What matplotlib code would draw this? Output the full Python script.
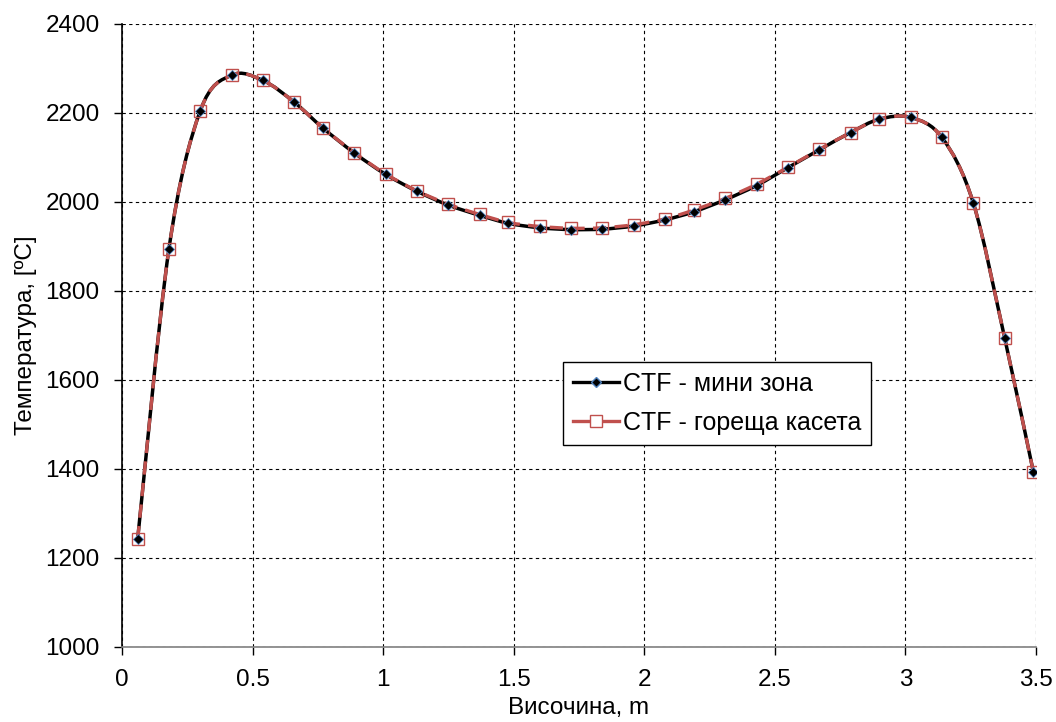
import numpy as np
import matplotlib
matplotlib.use('Agg')
import matplotlib.pyplot as plt
from matplotlib.path import Path
from matplotlib.patches import PathPatch
from matplotlib.lines import Line2D

plt.rcParams['font.family'] = ['Liberation Sans', 'DejaVu Sans']

# Data
height = [0.06, 0.18, 0.30, 0.42, 0.54, 0.66, 0.77, 0.89, 1.01, 1.13,
          1.25, 1.37, 1.48, 1.60, 1.72, 1.84, 1.96, 2.08, 2.19, 2.31,
          2.43, 2.55, 2.67, 2.79, 2.90, 3.02, 3.14, 3.26, 3.38, 3.49]
temp_mini = [1242, 1895, 2205, 2285, 2273, 2224, 2166, 2110, 2062, 2024,
             1993, 1970, 1952, 1942, 1938, 1939, 1946, 1960, 1978, 2005,
             2037, 2077, 2117, 2156, 2186, 2190, 2145, 1998, 1695, 1394]
temp_hot = [1242, 1895, 2205, 2285, 2273, 2224, 2166, 2111, 2063, 2025,
            1995, 1972, 1954, 1945, 1941, 1942, 1949, 1962, 1982, 2008,
            2040, 2078, 2118, 2156, 2186, 2190, 2145, 1998, 1695, 1394]

label_mini = 'CTF - мини зона'
label_hot = 'CTF - гореща касета'


def smooth_path(x, y):
    # Excel-style smoothed line: cubic Bezier segments with Catmull-Rom tangents
    x = np.asarray(x, float)
    y = np.asarray(y, float)
    n = len(x)
    verts = [(x[0], y[0])]
    codes = [Path.MOVETO]
    for i in range(n - 1):
        p0 = (x[max(i - 1, 0)], y[max(i - 1, 0)])
        p1 = (x[i], y[i])
        p2 = (x[i + 1], y[i + 1])
        p3 = (x[min(i + 2, n - 1)], y[min(i + 2, n - 1)])
        c1 = (p1[0] + (p2[0] - p0[0]) / 6, p1[1] + (p2[1] - p0[1]) / 6)
        c2 = (p2[0] - (p3[0] - p1[0]) / 6, p2[1] - (p3[1] - p1[1]) / 6)
        verts += [c1, c2, p2]
        codes += [Path.CURVE4] * 3
    return Path(verts, codes)


fig = plt.figure(figsize=(10.56, 7.22), dpi=100)
ax = fig.add_axes([0.1155, 0.1039, 0.8655, 0.8629])

ax.add_patch(PathPatch(smooth_path(height, temp_mini), facecolor='none',
                       edgecolor='black', linewidth=2.5, zorder=3))
ax.add_patch(PathPatch(smooth_path(height, temp_hot), facecolor='none',
                       edgecolor='#c0504d', linewidth=2.4, linestyle=(0, (4, 2.5)),
                       zorder=4))
ax.plot(height, temp_hot, linestyle='none', marker='s', markersize=8,
        markerfacecolor='none', markeredgecolor='#c0504d', markeredgewidth=1.0,
        zorder=5)
ax.plot(height, temp_mini, linestyle='none', marker='D', markersize=5.5,
        markerfacecolor='black', markeredgecolor='#4f81bd', markeredgewidth=0.6,
        zorder=6)

ax.set_xlim(0, 3.5)
ax.set_ylim(1000, 2400)
ax.set_xticks(np.arange(0, 3.51, 0.5))
ax.set_xticklabels(['0', '0.5', '1', '1.5', '2', '2.5', '3', '3.5'])
ax.set_yticks(np.arange(1000, 2401, 200))
ax.tick_params(direction='out', length=6, width=1, labelsize=17.5)
ax.tick_params(axis='y', pad=10)
ax.tick_params(axis='x', pad=10)
ax.grid(True, color='black', linestyle=(0, (3, 3)), linewidth=0.8)
ax.spines['top'].set_visible(False)
ax.spines['right'].set_visible(False)
ax.spines['left'].set_linewidth(1.2)
ax.spines['bottom'].set_color('#808080')
ax.spines['bottom'].set_linewidth(1.2)

ax.set_xlabel('Височина, m', fontsize=17.5, labelpad=4)
ax.set_ylabel('Температура, [ºC]', fontsize=17.5, labelpad=6)

handles = [
    Line2D([], [], color='black', linewidth=2.4, marker='D', markersize=5.5,
           markerfacecolor='black', markeredgecolor='#4f81bd'),
    Line2D([], [], color='#c0504d', linewidth=2.4, marker='s', markersize=8,
           markerfacecolor='white', markeredgecolor='#c0504d'),
]
leg = ax.legend(handles, [label_mini, label_hot], loc='upper left',
                bbox_to_anchor=(0.4825, 0.4575), fontsize=18, frameon=True,
                fancybox=False, framealpha=1, edgecolor='black',
                handlelength=1.85, handletextpad=0.15, borderpad=0.4,
                borderaxespad=0, labelspacing=0.6)
leg.get_frame().set_linewidth(1.0)

fig.savefig('out.png', dpi=100)
